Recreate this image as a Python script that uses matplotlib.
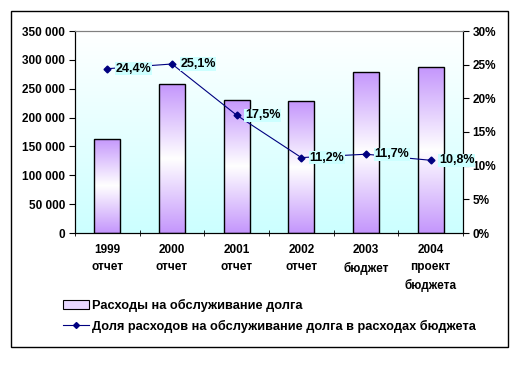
import numpy as np
import matplotlib; matplotlib.use("Agg")
import matplotlib.pyplot as plt
from matplotlib.colors import LinearSegmentedColormap
from matplotlib.patches import Rectangle
from matplotlib.lines import Line2D
plt.rcParams.update({"font.family": ["Liberation Sans", "DejaVu Sans"], "font.weight": "bold", "font.size": 8.5})

years = ["1999\nотчет", "2000\nотчет", "2001\nотчет", "2002\nотчет", "2003\nбюджет", "2004\nпроект\nбюджета"]
spend = [163000, 258000, 230500, 228700, 279000, 287000]      # расходы на обслуживание долга
share = [24.4, 25.1, 17.5, 11.2, 11.7, 10.8]                   # доля в расходах бюджета, %
bar_label = "Расходы на обслуживание долга"
line_label = "Доля расходов на обслуживание долга в расходах бюджета"

W, H = 521, 373
fig = plt.figure(figsize=(W / 100, H / 100), dpi=100)
ax = fig.add_axes([75 / W, 1 - 233 / H, (463 - 75) / W, (233 - 31) / H])
ax2 = ax.twinx()

x = np.arange(len(years))

# plot-area background: white at top -> light cyan at bottom
bg = LinearSegmentedColormap.from_list("bg", ["#ccffff", "#ffffff"])
ax.imshow(np.linspace(0, 1, 256)[:, None], extent=[-0.5, len(years) - 0.5, 0, 350000],
          aspect="auto", cmap=bg, origin="lower", zorder=0)

# bars with purple -> white -> purple gradient
barcm = LinearSegmentedColormap.from_list("bar", ["#c496fc", "#ffffff", "#c496fc"])
bars = ax.bar(x, spend, width=0.4, facecolor="none", edgecolor="black", lw=1, zorder=3)
for b in bars:
    im = ax.imshow(np.linspace(0, 1, 256)[:, None],
                   extent=[b.get_x(), b.get_x() + b.get_width(), 0, b.get_height()],
                   aspect="auto", cmap=barcm, origin="lower", zorder=2)
    im.set_clip_path(b)
ax.set_xlim(-0.5, len(years) - 0.5)
ax.set_ylim(0, 350000)

ax.set_yticks(np.arange(0, 350001, 50000))
ax.set_yticklabels([f"{v:,}".replace(",", " ") for v in range(0, 350001, 50000)])
ax.set_xticks(x)
ax.set_xticklabels(years, linespacing=1.55, va="top")
ax.set_xticks(np.arange(-0.5, len(years)), minor=True)
ax.tick_params(axis="x", which="major", length=0, pad=8)
ax.tick_params(axis="x", which="minor", length=4, direction="inout")
ax.tick_params(axis="y", length=4, direction="out", pad=3)

ax.spines["top"].set_color("#808080")
ax2.spines["top"].set_color("#808080")

# line on secondary axis
ax2.set_ylim(0, 30)
ax2.plot(x, share, color="#000080", lw=0.8, marker="D", ms=3.5, zorder=5)
ax2.set_yticks(np.arange(0, 31, 5))
ax2.set_yticklabels([f"{v}%" for v in range(0, 31, 5)])
ax2.tick_params(axis="y", length=4, direction="out", pad=3)
for xi, v in zip(x, share):
    ax2.annotate(f"{v:.1f}%".replace(".", ","), (xi, v), xytext=(6, 0), textcoords="offset points",
                 ha="left", va="center", fontsize=9, zorder=6,
                 bbox=dict(boxstyle="square,pad=0.05", fc="#ccffff", ec="none"))
ax.set_zorder(1); ax2.set_zorder(2); ax2.patch.set_visible(False)

# legend
handles = [Rectangle((0, 0), 1, 1, fc="#e8d8ff", ec="black", lw=0.8),
           Line2D([], [], color="#000080", lw=0.8, marker="D", ms=3)]
fig.legend(handles, [bar_label, line_label], loc="upper left", bbox_to_anchor=(63 / W, 1 - 299 / H),
           frameon=False, fontsize=9.2, handlelength=2.0, handletextpad=0.3, labelspacing=0.6,
           borderaxespad=0, borderpad=0)

# chart-area frame
fig.patches.append(Rectangle((11 / W, 1 - 347 / H), (508 - 11) / W, (347 - 11) / H,
                             transform=fig.transFigure, fill=False, ec="black", lw=1))

fig.savefig("out.png", dpi=100)
